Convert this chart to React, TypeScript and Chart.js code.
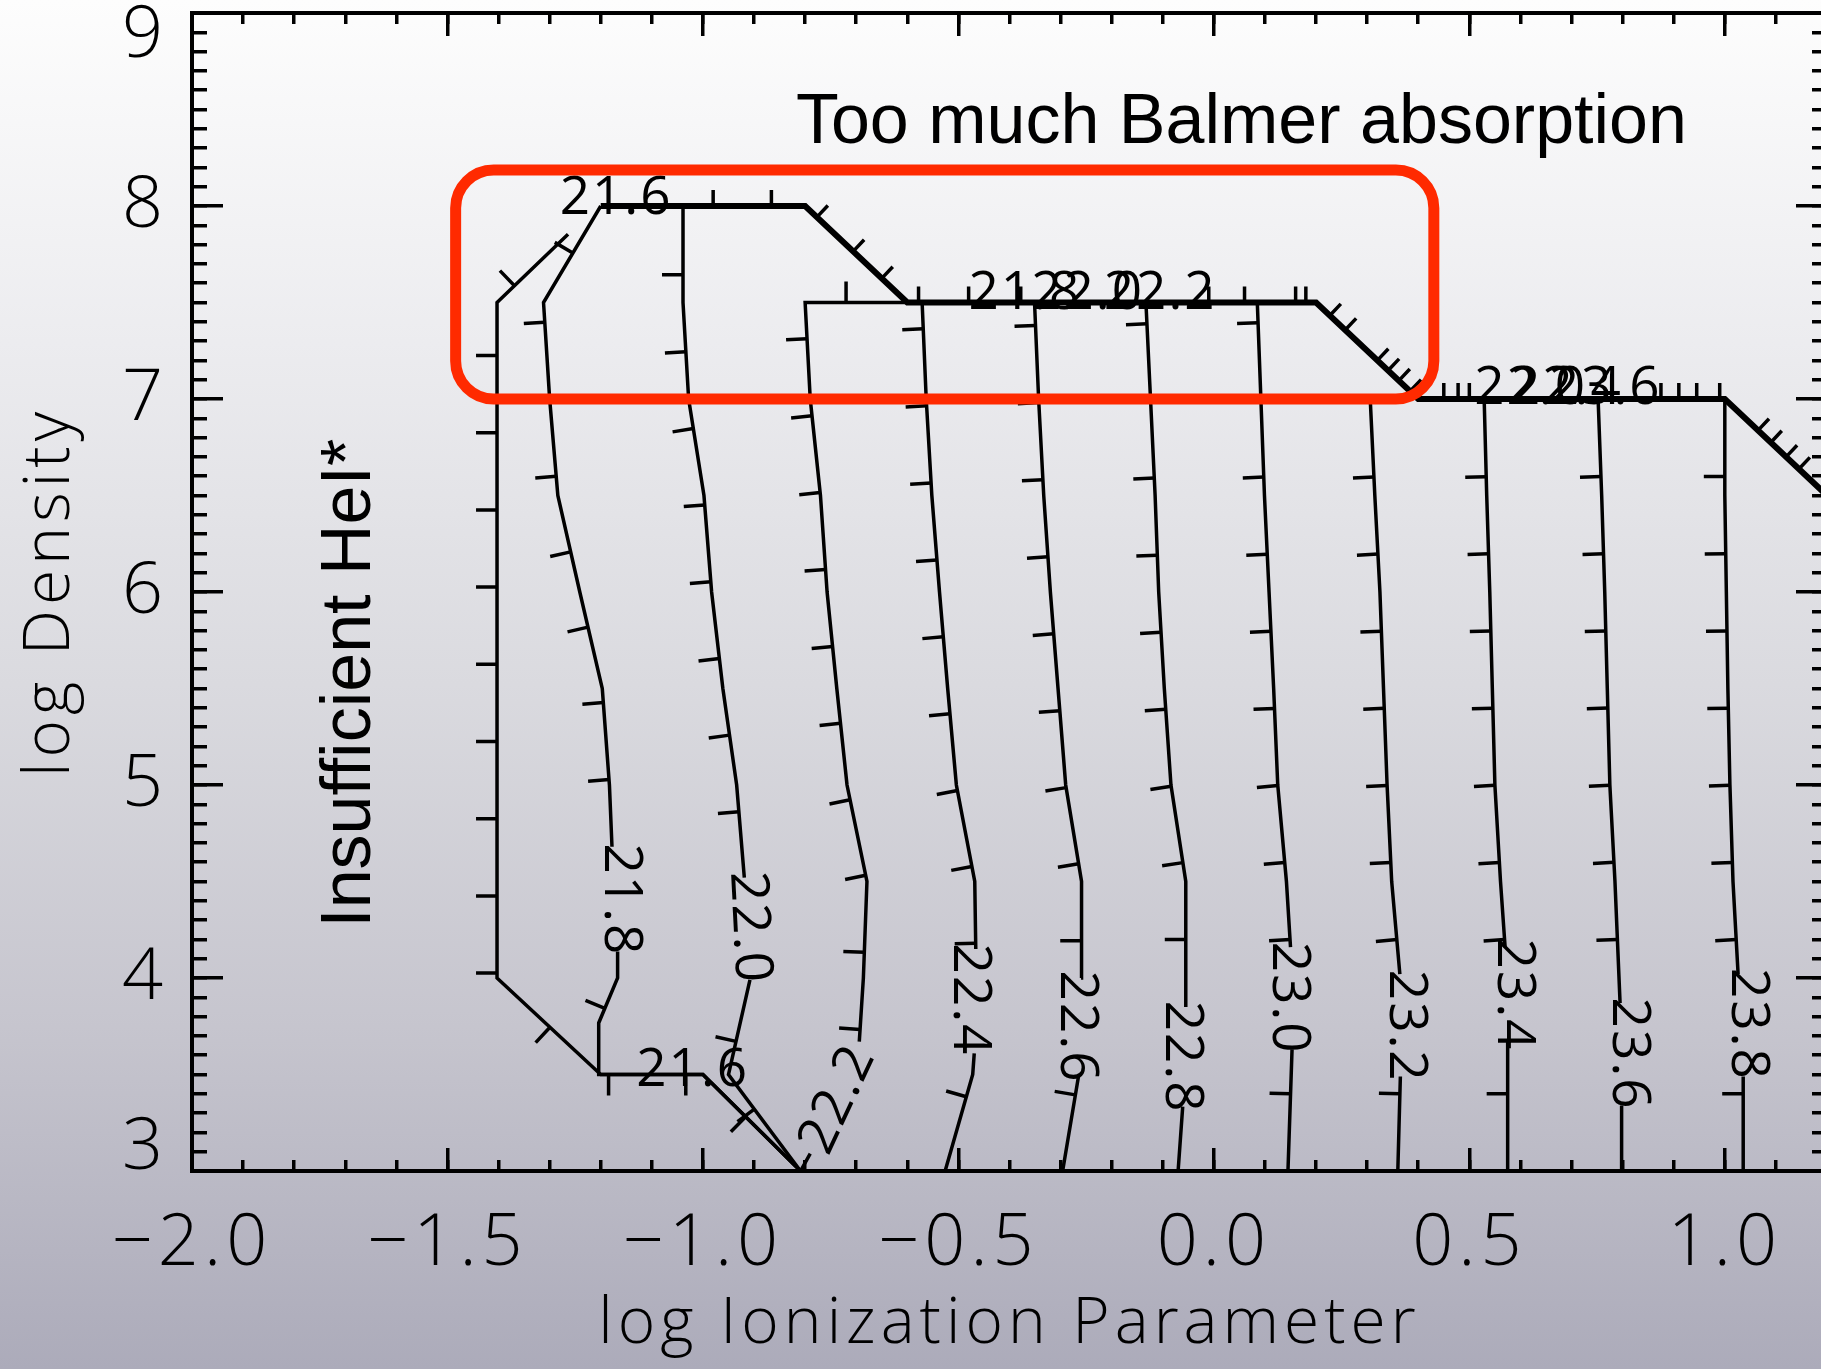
import React, { useEffect, useRef } from 'react';
import { Chart, registerables } from 'chart.js';

Chart.register(...registerables);

type Pt = [number, number] | null;

// ---------------- axes ----------------
const X_MIN = -2.0;
const X_MAX = 1.2;
const Y_MIN = 3;
const Y_MAX = 9;
const X_MAJOR_STEP = 0.5;
const X_MINOR_STEP = 0.1;
const Y_MAJOR_STEP = 1;
const Y_MINOR_STEP = 0.1;
const X_TICK_LABELS = ['\u22122.0', '\u22121.5', '\u22121.0', '\u22120.5', '0.0', '0.5', '1.0'];
const Y_TICK_LABELS = ['3', '4', '5', '6', '7', '8', '9'];
const X_TITLE = 'log Ionization Parameter';
const Y_TITLE = 'log Density';

// ---------------- contours (log column density), bottom -> top, null = label gap ----------------
const C216: Pt[] = [[-0.809, 3.0], [-1.0, 3.5], [-1.2, 3.5], [-1.403, 4.0], [-1.403, 7.5], [-1.264, 7.854]];
const C218: Pt[] = [[-0.809, 3.0], [-1.0, 3.5], [-1.204, 3.5], [-1.204, 3.767], [-1.167, 4.0], [-1.167, 4.137], null,
  [-1.178, 4.68], [-1.183, 5.0], [-1.197, 5.5], [-1.241, 6.0], [-1.284, 6.5], [-1.3, 7.0], [-1.312, 7.5], [-1.2, 8.0]];
const C220: Pt[] = [[-0.809, 3.0], [-0.95, 3.5], [-0.908, 3.99], null, [-0.919, 4.52], [-0.934, 5.0], [-0.961, 5.5],
  [-0.983, 6.0], [-0.998, 6.5], [-1.028, 7.0], [-1.039, 7.5], [-1.039, 8.0]];
const C222: Pt[] = [[-0.809, 3.0], [-0.79, 3.09], null, [-0.694, 3.67], [-0.686, 4.0], [-0.679, 4.5], [-0.718, 5.0],
  [-0.738, 5.5], [-0.757, 6.0], [-0.77, 6.5], [-0.79, 7.0], [-0.8, 7.5], [-0.6, 7.5]];
const C224: Pt[] = [[-0.526, 3.0], [-0.472, 3.5], [-0.469, 3.61], null, [-0.466, 4.15], [-0.468, 4.5], [-0.504, 5.0],
  [-0.521, 5.5], [-0.537, 6.0], [-0.552, 6.5], [-0.563, 7.0], [-0.571, 7.5]];
const C226: Pt[] = [[-0.296, 3.0], [-0.265, 3.49], null, [-0.26, 4.0], [-0.259, 4.5], [-0.29, 5.0], [-0.305, 5.5],
  [-0.32, 6.0], [-0.333, 6.5], [-0.343, 7.0], [-0.351, 7.5]];
const C228: Pt[] = [[-0.07, 3.0], [-0.061, 3.333], null, [-0.055, 3.85], [-0.055, 4.5], [-0.084, 5.0], [-0.097, 5.5],
  [-0.108, 6.0], [-0.115, 6.5], [-0.124, 7.0], [-0.133, 7.5]];
const C230: Pt[] = [[0.145, 3.0], [0.153, 3.63], null, [0.15, 4.16], [0.142, 4.5], [0.125, 5.0], [0.117, 5.5],
  [0.108, 6.0], [0.099, 6.5], [0.092, 7.0], [0.085, 7.5]];
const C232: Pt[] = [[0.36, 3.0], [0.365, 3.49], null, [0.364, 4.02], [0.348, 4.5], [0.339, 5.0], [0.332, 5.5],
  [0.325, 6.0], [0.315, 6.5], [0.306, 7.0], [0.385, 7.0]];
const C234: Pt[] = [[0.575, 3.0], [0.575, 3.67], null, [0.57, 4.16], [0.561, 4.5], [0.55, 5.0], [0.545, 5.5],
  [0.54, 6.0], [0.534, 6.5], [0.529, 7.0]];
const C236: Pt[] = [[0.798, 3.0], [0.798, 3.34], null, [0.795, 3.87], [0.785, 4.5], [0.775, 5.0], [0.77, 5.5],
  [0.765, 6.0], [0.759, 6.5], [0.752, 7.0]];
const C238: Pt[] = [[1.036, 3.0], [1.036, 3.49], null, [1.026, 4.02], [1.016, 4.5], [1.01, 5.0], [1.006, 5.5],
  [1.003, 6.0], [1.0, 6.5], [1.0, 7.0]];
const CONTOURS: Pt[][] = [C216, C218, C220, C222, C224, C226, C228, C230, C232, C234, C236, C238];

// upper edge of the model grid, shared by the contours
const BOUNDARY: [number, number][] = [[-1.2, 8.0], [-0.8, 8.0], [-0.6, 7.5], [0.2, 7.5], [0.4, 7.0], [1.0, 7.0], [1.2, 6.5], [1.4, 6.0]];
const BOUNDARY_TICKS: number[] = [-0.98, -0.866, -0.777, -0.706, -0.65, -0.578, -0.48, -0.378, -0.01, 0.06, 0.16, 0.18,
  0.227, 0.257, 0.32, 0.341, 0.362, 0.384, 0.45, 0.478, 0.5, 0.875, 0.91, 0.945, 0.99, 1.065, 1.09, 1.12, 1.145];

// contour labels: text, centre (data), rotation (deg)
const CONTOUR_LABELS: { t: string; x: number; y: number; r: number }[] = [
  { t: '21.6', x: -1.17, y: 8.037, r: 0 },
  { t: '21.6', x: -1.02, y: 3.518, r: 0 },
  { t: '21.8', x: -1.162, y: 4.405, r: 90 },
  { t: '22.0', x: -0.91, y: 4.26, r: 87 },
  { t: '22.2', x: -0.735, y: 3.37, r: -65 },
  { t: '22.4', x: -0.48, y: 3.886, r: 90 },
  { t: '22.6', x: -0.27, y: 3.746, r: 90 },
  { t: '22.8', x: -0.065, y: 3.59, r: 90 },
  { t: '23.0', x: 0.145, y: 3.896, r: 90 },
  { t: '23.2', x: 0.375, y: 3.75, r: 90 },
  { t: '23.4', x: 0.585, y: 3.912, r: 90 },
  { t: '23.6', x: 0.81, y: 3.606, r: 90 },
  { t: '23.8', x: 1.043, y: 3.76, r: 90 },
  { t: '21.8', x: -0.37, y: 7.545, r: 0 },
  { t: '22.0', x: -0.247, y: 7.545, r: 0 },
  { t: '22.2', x: -0.105, y: 7.545, r: 0 },
  { t: '22.0', x: 0.62, y: 7.053, r: 0 },
  { t: '22.4', x: 0.69, y: 7.053, r: 0 },
  { t: '23.6', x: 0.766, y: 7.053, r: 0 },
];

// annotations
const BOX = { x0: -1.484, x1: 0.4305, y0: 7.0, y1: 8.187 };
const TOP_NOTE = { t: 'Too much Balmer absorption', x: -0.818, y: 8.325 };
const SIDE_NOTE = { t: 'Insufficient HeI*', x: -1.651, y: 4.26 };

// ---------------- styling ----------------
const AXIS_FONT = '"Open Sans", "DejaVu Sans", sans-serif';
const TICK_STEP_Y = 0.4;
const CONTOUR_TICK_LEN = 21;
const BOUNDARY_TICK_LEN = 16;
const BG = 'linear-gradient(180deg, #fdfdfd 0%, #ececef 25%, #dadadf 50%, #c6c5ce 75%, #acabba 100%)';

function walkTicks(ctx: any, pts: ({ x: number; y: number } | null)[], spacing: number, len: number) {
  let acc = 0;
  let next = spacing;
  let prev: { x: number; y: number } | null = null;
  let gap = false;
  for (const p of pts) {
    if (p === null) { gap = true; continue; }
    if (prev) {
      const dx = p.x - prev.x;
      const dy = p.y - prev.y;
      const L = Math.hypot(dx, dy);
      if (L > 0) {
        while (next <= acc + L) {
          const t = (next - acc) / L;
          if (!gap) {
            const bx = prev.x + dx * t;
            const by = prev.y + dy * t;
            ctx.moveTo(bx, by);
            ctx.lineTo(bx + (dy / L) * len, by - (dx / L) * len);
          }
          next += spacing;
        }
      }
      acc += L;
    }
    prev = p;
    gap = false;
  }
}

const overlay = {
  id: 'overlay',
  beforeDraw(chart: any) {
    chart.ctx.letterSpacing = '5px';
  },
  afterDatasetsDraw(chart: any) {
    const ctx = chart.ctx;
    const xs = chart.scales.x;
    const ys = chart.scales.y;
    const X = (v: number) => xs.getPixelForValue(v);
    const Y = (v: number) => ys.getPixelForValue(v);
    const a = chart.chartArea;

    ctx.save();
    ctx.letterSpacing = '0px';
    ctx.beginPath();
    ctx.rect(a.left, a.top, a.right - a.left, a.bottom - a.top);
    ctx.clip();

    // downhill ticks along the contours
    const spacing = Math.abs(Y(Y_MIN + TICK_STEP_Y) - Y(Y_MIN));
    ctx.strokeStyle = '#000';
    ctx.lineWidth = 3.5;
    ctx.lineCap = 'butt';
    ctx.beginPath();
    for (const c of CONTOURS) {
      walkTicks(ctx, c.map((p) => (p ? { x: X(p[0]), y: Y(p[1]) } : null)), spacing, CONTOUR_TICK_LEN);
    }
    const bp = BOUNDARY.map((p) => ({ x: X(p[0]), y: Y(p[1]) }));
    for (const tx of BOUNDARY_TICKS) {
      for (let i = 0; i < BOUNDARY.length - 1; i++) {
        const [x0, y0] = BOUNDARY[i];
        const [x1, y1] = BOUNDARY[i + 1];
        if (tx >= x0 && tx <= x1) {
          const t = (tx - x0) / (x1 - x0);
          const bx = X(tx);
          const by = Y(y0 + (y1 - y0) * t);
          const dx = bp[i + 1].x - bp[i].x;
          const dy = bp[i + 1].y - bp[i].y;
          const L = Math.hypot(dx, dy);
          ctx.moveTo(bx, by);
          ctx.lineTo(bx + (dy / L) * BOUNDARY_TICK_LEN, by - (dx / L) * BOUNDARY_TICK_LEN);
          break;
        }
      }
    }
    ctx.stroke();

    // contour labels
    ctx.fillStyle = '#000';
    ctx.font = `400 53px ${AXIS_FONT}`;
    ctx.letterSpacing = '2px';
    ctx.textAlign = 'center';
    ctx.textBaseline = 'middle';
    for (const l of CONTOUR_LABELS) {
      ctx.save();
      ctx.translate(X(l.x), Y(l.y));
      ctx.rotate((l.r * Math.PI) / 180);
      ctx.fillText(l.t, 0, 0);
      ctx.restore();
    }
    ctx.restore();

    // red rounded box
    ctx.save();
    const bx0 = X(BOX.x0), bx1 = X(BOX.x1), by0 = Y(BOX.y1), by1 = Y(BOX.y0);
    const rad = 38;
    ctx.strokeStyle = '#ff2a00';
    ctx.lineWidth = 11;
    ctx.beginPath();
    ctx.moveTo(bx0 + rad, by0);
    ctx.lineTo(bx1 - rad, by0);
    ctx.arcTo(bx1, by0, bx1, by0 + rad, rad);
    ctx.lineTo(bx1, by1 - rad);
    ctx.arcTo(bx1, by1, bx1 - rad, by1, rad);
    ctx.lineTo(bx0 + rad, by1);
    ctx.arcTo(bx0, by1, bx0, by1 - rad, rad);
    ctx.lineTo(bx0, by0 + rad);
    ctx.arcTo(bx0, by0, bx0 + rad, by0, rad);
    ctx.closePath();
    ctx.stroke();

    // annotation texts
    ctx.letterSpacing = '0px';
    ctx.fillStyle = '#000';
    ctx.font = '70px "Liberation Sans", Arial, sans-serif';
    ctx.textAlign = 'left';
    ctx.textBaseline = 'alphabetic';
    ctx.fillText(TOP_NOTE.t, X(TOP_NOTE.x), Y(TOP_NOTE.y));
    ctx.translate(X(SIDE_NOTE.x), Y(SIDE_NOTE.y));
    ctx.rotate(-Math.PI / 2);
    ctx.fillText(SIDE_NOTE.t, 0, 0);
    ctx.restore();
  },
};

function zeroPad(s: any) {
  s.paddingLeft = 0;
  s.paddingRight = 0;
  s.paddingTop = 0;
  s.paddingBottom = 0;
}

export default function App() {
  const ref = useRef<HTMLCanvasElement>(null);

  useEffect(() => {
    document.body.style.margin = '0';
    document.body.style.overflow = 'hidden';
    const canvas = ref.current;
    if (!canvas) return;

    const toData = (c: Pt[]) => c.map((p) => (p ? { x: p[0], y: p[1] } : { x: 0, y: null }));
    const datasets: any[] = CONTOURS.map((c) => ({
      data: toData(c),
      showLine: true,
      borderColor: '#000',
      borderWidth: 3.5,
      pointRadius: 0,
      pointHoverRadius: 0,
      pointHitRadius: 0,
      spanGaps: false,
      fill: false,
      tension: 0,
    }));
    datasets.push({
      data: BOUNDARY.map((p) => ({ x: p[0], y: p[1] })),
      showLine: true,
      borderColor: '#000',
      borderWidth: 6,
      pointRadius: 0,
      pointHoverRadius: 0,
      pointHitRadius: 0,
      fill: false,
      tension: 0,
    });

    const tickGrid = (len: number) => ({
      drawOnChartArea: false,
      drawTicks: true,
      tickLength: len,
      lineWidth: 3.5,
      color: '#000',
      tickColor: '#000',
    });
    const hiddenTicks = (step: number) => ({ display: false, stepSize: step, includeBounds: false });

    const chart = new Chart(canvas, {
      type: 'scatter',
      data: { datasets },
      plugins: [overlay],
      options: {
        responsive: false,
        animation: false,
        devicePixelRatio: 1,
        events: [],
        layout: { padding: { left: 0, top: 13, right: 13, bottom: 0 } },
        plugins: { legend: { display: false }, tooltip: { enabled: false }, title: { display: false } },
        scales: {
          x: {
            type: 'linear', position: 'bottom', min: X_MIN, max: X_MAX, weight: 1,
            ticks: {
              stepSize: X_MAJOR_STEP, includeBounds: false, autoSkip: false, maxRotation: 0, minRotation: 0,
              color: '#000', padding: 53,
              font: { family: AXIS_FONT, size: 72, weight: '300' },
              callback: (_v: any, i: number) => X_TICK_LABELS[i] ?? '',
            },
            grid: tickGrid(-23),
            border: { display: true, color: '#000', width: 4 },
            title: {
              display: true, text: X_TITLE, color: '#000',
              font: { family: AXIS_FONT, size: 64, weight: '300' },
              padding: { top: 0, bottom: 6 },
            },
            afterFit: (s: any) => { s.height = 198; zeroPad(s); },
          },
          xMinor: {
            type: 'linear', position: 'bottom', min: X_MIN, max: X_MAX, weight: 0,
            ticks: hiddenTicks(X_MINOR_STEP), grid: tickGrid(-11), border: { display: false },
            afterFit: (s: any) => { s.height = 0; zeroPad(s); },
          },
          xTop: {
            type: 'linear', position: 'top', min: X_MIN, max: X_MAX, weight: 1,
            ticks: hiddenTicks(X_MAJOR_STEP), grid: tickGrid(-23), border: { display: true, color: '#000', width: 4 },
            afterFit: (s: any) => { s.height = 0; zeroPad(s); },
          },
          xTopMinor: {
            type: 'linear', position: 'top', min: X_MIN, max: X_MAX, weight: 0,
            ticks: hiddenTicks(X_MINOR_STEP), grid: tickGrid(-11), border: { display: false },
            afterFit: (s: any) => { s.height = 0; zeroPad(s); },
          },
          y: {
            type: 'linear', position: 'left', min: Y_MIN, max: Y_MAX, weight: 1,
            ticks: {
              stepSize: Y_MAJOR_STEP, includeBounds: false, autoSkip: false, color: '#000', padding: 55,
              font: { family: AXIS_FONT, size: 72, weight: '300', lineHeight: '46px' },
              callback: (_v: any, i: number) => {
                const s = Y_TICK_LABELS[i] ?? '';
                if (i === Y_TICK_LABELS.length - 1) return ['', s];
                if (i === 0) return [s, ''];
                return s;
              },
            },
            grid: tickGrid(-31),
            border: { display: true, color: '#000', width: 4 },
            title: {
              display: true, text: Y_TITLE, color: '#000',
              font: { family: AXIS_FONT, size: 64, weight: '300' },
              padding: { top: 12, bottom: 0 },
            },
            afterFit: (s: any) => { s.width = 192; zeroPad(s); },
          },
          yMinor: {
            type: 'linear', position: 'left', min: Y_MIN, max: Y_MAX, weight: 0,
            ticks: hiddenTicks(Y_MINOR_STEP), grid: tickGrid(-15), border: { display: false },
            afterFit: (s: any) => { s.width = 0; zeroPad(s); },
          },
          yRight: {
            type: 'linear', position: 'right', min: Y_MIN, max: Y_MAX, weight: 1,
            ticks: hiddenTicks(Y_MAJOR_STEP), grid: tickGrid(-31), border: { display: true, color: '#000', width: 4 },
            afterFit: (s: any) => { s.width = 0; zeroPad(s); },
          },
          yRightMinor: {
            type: 'linear', position: 'right', min: Y_MIN, max: Y_MAX, weight: 0,
            ticks: hiddenTicks(Y_MINOR_STEP), grid: tickGrid(-15), border: { display: false },
            afterFit: (s: any) => { s.width = 0; zeroPad(s); },
          },
        },
      } as any,
    });
    return () => chart.destroy();
  }, []);

  return (
    <div style={{ position: 'fixed', left: 0, top: 0, width: 1821, height: 1369, overflow: 'hidden', background: BG }}>
      <canvas
        ref={ref}
        width={1840}
        height={1369}
        style={{ position: 'absolute', left: 0, top: 0, width: 1840, height: 1369 }}
      />
    </div>
  );
}
